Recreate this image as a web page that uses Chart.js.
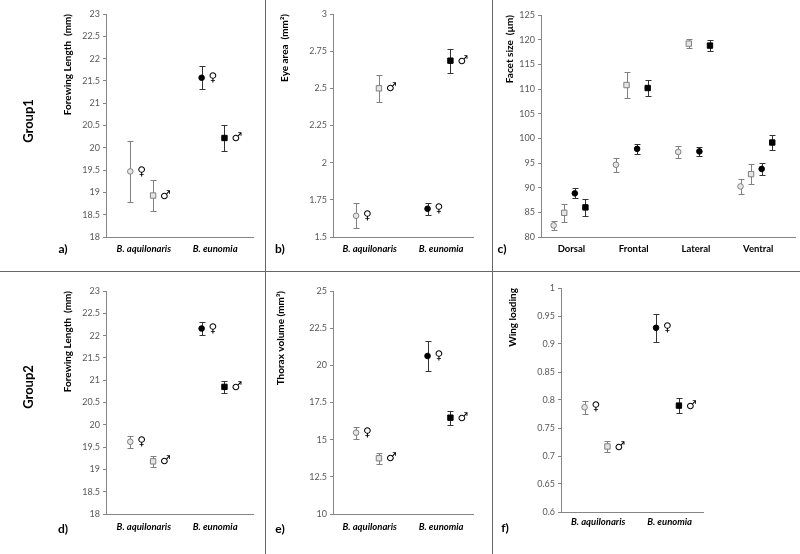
<!DOCTYPE html>
<html>
<head>
<meta charset="utf-8">
<script src="https://cdn.jsdelivr.net/npm/chart.js@4.4.1/dist/chart.umd.min.js"></script>
<style>
  body { margin: 0; background: #fff; }
  #fig { position: relative; width: 800px; height: 554px; background: #fff; font-family: Lato, "Liberation Sans", sans-serif; overflow: hidden; }
  .box { position: absolute; }
  .rule { position: absolute; background: #666; }
  .tag { position: absolute; font-weight: bold; font-size: 12px; color: #000; transform: translate(-50%, -50%); white-space: nowrap; }
  .grp { position: absolute; font-weight: bold; font-size: 13px; color: #000; transform: translate(-50%, -50%) rotate(-90deg); white-space: nowrap; }
</style>
</head>
<body>
<div id="fig">
  <div class="box" style="left:0;top:0;width:265px;height:271px"><canvas id="panelA"></canvas></div>
  <div class="box" style="left:267px;top:0;width:225px;height:271px"><canvas id="panelB"></canvas></div>
  <div class="box" style="left:494px;top:0;width:306px;height:271px"><canvas id="panelC"></canvas></div>
  <div class="box" style="left:0;top:273px;width:265px;height:281px"><canvas id="panelD"></canvas></div>
  <div class="box" style="left:267px;top:273px;width:225px;height:281px"><canvas id="panelE"></canvas></div>
  <div class="box" style="left:494px;top:273px;width:306px;height:281px"><canvas id="panelF"></canvas></div>

  <div class="rule" style="left:0;top:271px;width:800px;height:1px"></div>
  <div class="rule" style="left:265px;top:0;width:1px;height:554px"></div>
  <div class="rule" style="left:492px;top:0;width:1px;height:554px"></div>

  <div class="grp" style="left:28px;top:121px">Group1</div>
  <div class="grp" style="left:28px;top:387px">Group2</div>

  <div class="tag" style="left:63px;top:248px">a)</div>
  <div class="tag" style="left:280px;top:248px">b)</div>
  <div class="tag" style="left:502px;top:248px">c)</div>
  <div class="tag" style="left:63px;top:528px">d)</div>
  <div class="tag" style="left:280px;top:528px">e)</div>
  <div class="tag" style="left:505px;top:527px">f)</div>
</div>

<script>
var speciesLabels = ['B. aquilonaris', 'B. eunomia'];
var regionLabels = ['Dorsal', 'Frontal', 'Lateral', 'Ventral'];

// a) Group1 forewing length (mm)
var fwl1Female = [19.47, 21.57];
var fwl1FemaleErr = [0.69, 0.26];
var fwl1Male = [18.93, 20.22];
var fwl1MaleErr = [0.35, 0.29];

// b) eye area (mm2)
var eyeFemale = [1.643, 1.690];
var eyeFemaleErr = [0.084, 0.042];
var eyeMale = [2.50, 2.686];
var eyeMaleErr = [0.09, 0.081];

// c) facet size (um), per eye region
var facetAquFemale = [82.35, 94.64, 97.25, 90.25];
var facetAquFemaleErr = [0.95, 1.4, 1.2, 1.5];
var facetAquMale = [84.9, 110.8, 119.2, 92.75];
var facetAquMaleErr = [1.8, 2.55, 0.9, 2.1];
var facetEunFemale = [88.85, 97.87, 97.35, 93.8];
var facetEunFemaleErr = [1.0, 1.0, 0.9, 1.2];
var facetEunMale = [86.0, 110.2, 118.8, 99.15];
var facetEunMaleErr = [1.7, 1.6, 1.15, 1.6];

// d) Group2 forewing length (mm)
var fwl2Female = [19.62, 22.16];
var fwl2FemaleErr = [0.13, 0.145];
var fwl2Male = [19.18, 20.85];
var fwl2MaleErr = [0.13, 0.13];

// e) thorax volume (mm3)
var thoraxFemale = [15.47, 20.63];
var thoraxFemaleErr = [0.41, 1.04];
var thoraxMale = [13.75, 16.48];
var thoraxMaleErr = [0.37, 0.47];

// f) wing loading
var wingFemale = [0.787, 0.929];
var wingFemaleErr = [0.012, 0.025];
var wingMale = [0.717, 0.79];
var wingMaleErr = [0.0105, 0.0135];

Chart.defaults.font.family = 'Lato, "Liberation Sans", sans-serif';

var speciesStyle = [
  { fill: '#e6e6e6', edge: '#7f7f7f', err: '#808080' },
  { fill: '#000000', edge: '#000000', err: '#333333' }
];

function makeSet(values, errors, cats, offset, species, sex, showSymbol) {
  var st = speciesStyle[species];
  return {
    data: values.map(function (v, k) { return { x: cats[k] + offset, y: v }; }),
    errors: errors,
    errColor: st.err,
    symbol: showSymbol ? (sex === 'F' ? '\u2640' : '\u2642') : null,
    showLine: false,
    pointStyle: sex === 'F' ? 'circle' : 'rect',
    pointRadius: sex === 'F' ? 2.8 : 3.8,
    pointBorderWidth: 1,
    backgroundColor: st.fill,
    borderColor: st.edge
  };
}

function speciesSets(female, femaleErr, male, maleErr) {
  var sets = [];
  speciesLabels.forEach(function (name, i) {
    sets.push(makeSet([female[i]], [femaleErr[i]], [i], -0.16, i, 'F', true));
    sets.push(makeSet([male[i]], [maleErr[i]], [i], 0.16, i, 'M', true));
  });
  return sets;
}

var errorBars = {
  id: 'errorBars',
  beforeDatasetsDraw: function (chart) {
    var ctx = chart.ctx, xs = chart.scales.x, ys = chart.scales.y;
    ctx.save();
    ctx.lineWidth = 1;
    chart.data.datasets.forEach(function (ds) {
      ds.data.forEach(function (pt, k) {
        var px = Math.round(xs.getPixelForValue(pt.x)) + 0.5;
        var top = Math.round(ys.getPixelForValue(pt.y + ds.errors[k])) + 0.5;
        var bot = Math.round(ys.getPixelForValue(pt.y - ds.errors[k])) + 0.5;
        ctx.strokeStyle = ds.errColor;
        ctx.beginPath();
        ctx.moveTo(px, top); ctx.lineTo(px, bot);
        ctx.moveTo(px - 3, top); ctx.lineTo(px + 3, top);
        ctx.moveTo(px - 3, bot); ctx.lineTo(px + 3, bot);
        ctx.stroke();
      });
    });
    ctx.restore();
  },
  afterDatasetsDraw: function (chart) {
    var ctx = chart.ctx, xs = chart.scales.x, ys = chart.scales.y;
    ctx.save();
    ctx.fillStyle = '#000';
    ctx.font = '12px "DejaVu Sans"';
    ctx.textAlign = 'left';
    ctx.textBaseline = 'middle';
    chart.data.datasets.forEach(function (ds) {
      if (!ds.symbol) return;
      ds.data.forEach(function (pt) {
        ctx.fillText(ds.symbol, xs.getPixelForValue(pt.x) + 7, ys.getPixelForValue(pt.y));
      });
    });
    ctx.restore();
  }
};

function buildPanel(id, p) {
  var axisColor = '#868686';
  new Chart(document.getElementById(id), {
    type: 'scatter',
    data: { datasets: p.sets },
    options: {
      responsive: true,
      maintainAspectRatio: false,
      animation: false,
      layout: { padding: { left: 0, top: p.padTop, right: p.padRight, bottom: 0 } },
      plugins: { legend: { display: false }, tooltip: { enabled: false } },
      scales: {
        x: {
          type: 'linear',
          min: p.xMin,
          max: p.xMax,
          afterBuildTicks: function (scale) {
            scale.ticks = p.cats.map(function (c, i) { return { value: i + 0.03 }; });
          },
          afterFit: function (scale) { scale.height = p.xHeight; },
          grid: { display: false, drawTicks: false },
          border: { display: true, color: axisColor },
          ticks: {
            autoSkip: false,
            maxRotation: 0,
            padding: p.labelPad,
            color: '#000',
            font: { size: 9.5, weight: 'bold', style: p.italic ? 'italic' : 'normal' },
            callback: function (v) { return p.cats[Math.round(v)]; }
          }
        },
        y: {
          min: p.yMin,
          max: p.yMax,
          afterFit: function (scale) { scale.width = p.yWidth; },
          grid: { display: true, drawOnChartArea: false, drawTicks: true, tickLength: 3, color: axisColor },
          border: { display: true, color: axisColor },
          ticks: {
            stepSize: p.yStep,
            padding: 3,
            color: '#595959',
            font: { size: 9 },
            callback: function (v) { return String(+v.toFixed(3)); }
          },
          title: {
            display: true,
            text: p.title,
            align: 'end',
            color: '#000',
            padding: { top: p.titlePad, bottom: 0 },
            font: { size: 10, weight: 'bold' }
          }
        }
      }
    },
    plugins: [errorBars]
  });
}

var facetSets = [
  makeSet(facetAquFemale, facetAquFemaleErr, [0, 1, 2, 3], -0.255, 0, 'F', false),
  makeSet(facetAquMale, facetAquMaleErr, [0, 1, 2, 3], -0.085, 0, 'M', false),
  makeSet(facetEunFemale, facetEunFemaleErr, [0, 1, 2, 3], 0.085, 1, 'F', false),
  makeSet(facetEunMale, facetEunMaleErr, [0, 1, 2, 3], 0.255, 1, 'M', false)
];

buildPanel('panelA', {
  sets: speciesSets(fwl1Female, fwl1FemaleErr, fwl1Male, fwl1MaleErr), cats: speciesLabels, italic: true,
  title: 'Forewing Length  (mm)', yMin: 18, yMax: 23, yStep: 0.5, xMin: -0.5, xMax: 1.56,
  padTop: 14, padRight: 12, yWidth: 106, xHeight: 34, titlePad: 62, labelPad: 6
});
buildPanel('panelB', {
  sets: speciesSets(eyeFemale, eyeFemaleErr, eyeMale, eyeMaleErr), cats: speciesLabels, italic: true,
  title: 'Eye area  (mm\u00b2)', yMin: 1.5, yMax: 3, yStep: 0.25, xMin: -0.483, xMax: 1.476,
  padTop: 14, padRight: 19, yWidth: 66, xHeight: 34, titlePad: 12, labelPad: 6
});
buildPanel('panelC', {
  sets: facetSets, cats: regionLabels, italic: false,
  title: 'Facet size  (\u00b5m)', yMin: 80, yMax: 125, yStep: 5, xMin: -0.458, xMax: 3.62,
  padTop: 15, padRight: 5, yWidth: 47, xHeight: 34, titlePad: 10, labelPad: 6
});
buildPanel('panelD', {
  sets: speciesSets(fwl2Female, fwl2FemaleErr, fwl2Male, fwl2MaleErr), cats: speciesLabels, italic: true,
  title: 'Forewing Length  (mm)', yMin: 18, yMax: 23, yStep: 0.5, xMin: -0.5, xMax: 1.56,
  padTop: 18, padRight: 12, yWidth: 106, xHeight: 40, titlePad: 62, labelPad: 7
});
buildPanel('panelE', {
  sets: speciesSets(thoraxFemale, thoraxFemaleErr, thoraxMale, thoraxMaleErr), cats: speciesLabels, italic: true,
  title: 'Thorax volume (mm\u00b3)', yMin: 10, yMax: 25, yStep: 2.5, xMin: -0.483, xMax: 1.476,
  padTop: 18, padRight: 19, yWidth: 66, xHeight: 40, titlePad: 8, labelPad: 7
});
buildPanel('panelF', {
  sets: speciesSets(wingFemale, wingFemaleErr, wingMale, wingMaleErr), cats: speciesLabels, italic: true,
  title: 'Wing loading', yMin: 0.6, yMax: 1, yStep: 0.05, xMin: -0.49, xMax: 1.497,
  padTop: 15, padRight: 97, yWidth: 67, xHeight: 42, titlePad: 13, labelPad: 4
});
</script>
</body>
</html>
